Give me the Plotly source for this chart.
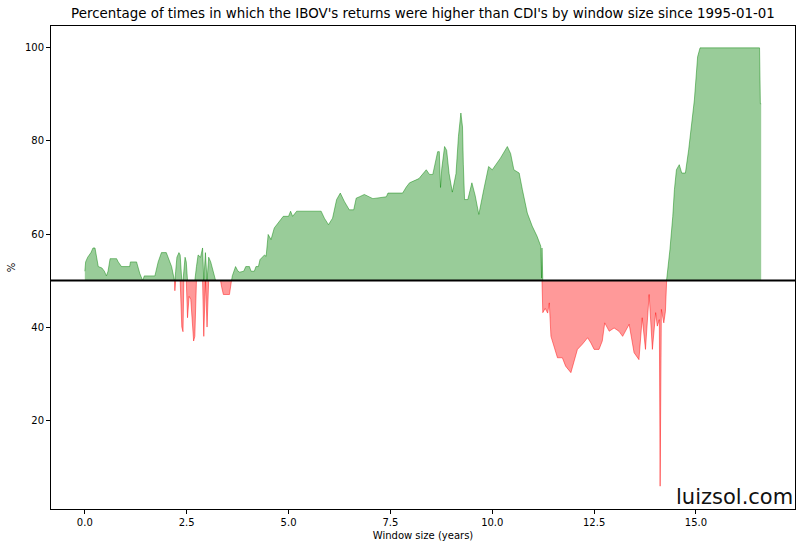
import numpy as np
import plotly.graph_objects as go

TITLE = ("Percentage of times in which the IBOV's returns were higher than CDI's "
         "by window size since 1995-01-01")

# window size in years and % of windows where IBOV beat CDI
window_years = [
    0.00, 0.02, 0.07, 0.15, 0.20, 0.25, 0.33, 0.42, 0.48, 0.53, 0.57, 0.62, 0.78, 0.82,
    0.90, 1.10, 1.12, 1.27, 1.35, 1.42, 1.46, 1.72, 1.80, 1.88, 2.00, 2.13, 2.20, 2.21,
    2.23, 2.26, 2.31, 2.34, 2.38, 2.41, 2.43, 2.46, 2.49, 2.52, 2.56, 2.60, 2.64, 2.67,
    2.70, 2.74, 2.78, 2.84, 2.89, 2.92, 2.96, 3.00, 3.04, 3.09, 3.15, 3.21, 3.33, 3.36,
    3.40, 3.55, 3.60, 3.62, 3.70, 3.76, 3.80, 3.90, 3.95, 4.04, 4.08, 4.16, 4.20, 4.26,
    4.30, 4.41, 4.45, 4.50, 4.57, 4.65, 4.77, 4.87, 5.00, 5.05, 5.10, 5.20, 5.80, 5.88,
    5.98, 6.08, 6.18, 6.27, 6.37, 6.49, 6.60, 6.66, 6.74, 6.86, 7.07, 7.40, 7.44, 7.64,
    7.80, 7.89, 7.97, 8.20, 8.38, 8.46, 8.54, 8.66, 8.70, 8.73, 8.76, 8.83, 8.88, 8.94,
    9.02, 9.11, 9.17, 9.23, 9.27, 9.29, 9.32, 9.40, 9.50, 9.58, 9.67, 9.79, 9.91, 10.00,
    10.08, 10.20, 10.37, 10.45, 10.53, 10.66, 10.74, 10.86, 10.98, 11.10, 11.19, 11.21,
    11.22, 11.24, 11.30, 11.36, 11.40, 11.44, 11.52, 11.60, 11.72, 11.80, 11.93, 12.01,
    12.09, 12.21, 12.34, 12.42, 12.50, 12.62, 12.70, 12.76, 12.87, 12.99, 13.11, 13.20,
    13.36, 13.48, 13.60, 13.68, 13.76, 13.85, 13.93, 14.01, 14.05, 14.10, 14.12, 14.15,
    14.21, 14.25, 14.28, 14.36, 14.43, 14.47, 14.52, 14.59, 14.65, 14.74, 14.82, 14.90,
    14.96, 15.04, 15.10, 16.56, 16.58, 16.60,
]
pct_higher = [
    52.0, 54.0, 55.0, 56.0, 57.0, 57.0, 53.0, 52.7, 52.0, 51.0, 52.0, 54.7, 54.7, 54.0,
    53.0, 53.0, 54.0, 54.0, 51.5, 50.0, 51.0, 51.0, 54.0, 56.0, 56.0, 53.0, 50.0, 47.8,
    52.0, 55.0, 56.0, 55.5, 40.0, 39.0, 52.0, 55.0, 54.0, 42.0, 46.6, 46.0, 40.0, 37.0,
    38.0, 53.0, 55.5, 55.0, 57.0, 38.0, 56.0, 40.0, 55.0, 54.0, 52.0, 50.0, 50.0, 48.5,
    47.0, 47.0, 50.0, 51.0, 53.0, 52.0, 51.8, 52.0, 53.0, 53.0, 52.0, 52.0, 53.0, 53.0,
    54.5, 55.5, 55.2, 59.9, 58.8, 61.3, 62.7, 63.8, 63.8, 64.9, 63.8, 64.9, 64.9, 63.4,
    62.0, 63.4, 67.4, 68.8, 67.0, 65.2, 65.2, 67.7, 68.0, 68.5, 67.6, 68.0, 68.8, 68.8,
    68.8, 70.1, 71.0, 71.9, 73.8, 72.8, 72.8, 77.7, 77.7, 70.0, 74.0, 78.8, 78.0, 73.0,
    69.0, 73.0, 81.0, 86.0, 83.0, 75.0, 67.4, 67.4, 71.0, 68.3, 64.2, 69.5, 74.5, 73.8,
    74.8, 76.3, 78.8, 77.3, 73.8, 73.1, 69.5, 64.5, 61.7, 59.5, 57.4, 50.5,
    57.0, 43.1, 44.0, 43.0, 45.2, 38.0, 35.9, 33.4, 33.4, 31.6, 30.2, 33.0,
    35.2, 36.3, 37.7, 36.6, 35.2, 35.2, 37.0, 40.9, 39.1, 39.8, 39.1, 38.0,
    40.6, 34.5, 33.0, 42.0, 35.2, 47.0, 35.2, 43.1, 40.2, 41.6, 5.8, 43.8,
    40.9, 43.4, 50.2, 56.6, 63.8, 69.5, 73.8, 74.9, 73.1, 73.1, 78.1, 83.8,
    88.8, 98.1, 100.0, 100.0, 88.0, 88.0,
]
threshold = 50
x_ticks = [0, 2.5, 5, 7.5, 10, 12.5, 15]
y_ticks = [20, 40, 60, 80, 100]

x = np.array(window_years)
y = np.array(pct_higher)
base = np.full_like(y, threshold)
above = np.maximum(y, threshold)
below = np.minimum(y, threshold)

fig = go.Figure()
for part, rgb in [(above, "0,128,0"), (below, "255,0,0")]:
    fig.add_trace(go.Scatter(x=x, y=base, mode="lines", line=dict(width=0),
                             hoverinfo="skip", showlegend=False))
    fig.add_trace(go.Scatter(
        x=x, y=part, mode="lines", fill="tonexty",
        fillcolor=f"rgba({rgb},0.4)",
        line=dict(color=f"rgba({rgb},0.45)", width=1),
        showlegend=False,
    ))

fig.add_hline(y=threshold, line=dict(color="black", width=2))

fig.add_annotation(
    text="luizsol.com", xref="paper", yref="paper", x=1, y=0,
    xanchor="right", yanchor="bottom", xshift=0, yshift=-2, showarrow=False,
    font=dict(size=21, color="#111111"),
)

axis = dict(
    showgrid=False, zeroline=False, showline=True, linecolor="black", linewidth=1,
    mirror=True, ticks="outside", ticklen=4, tickcolor="black", automargin=False,
    tickfont=dict(size=10, color="black"),
)
fig.update_layout(
    width=806, height=549,
    margin=dict(l=51, r=11, t=26, b=40),
    paper_bgcolor="white", plot_bgcolor="white",
    font=dict(family="DejaVu Sans", color="black"),
    title=dict(text=TITLE, x=0.5, xref="paper", y=1 - 13 / 549, yref="container",
               xanchor="center", yanchor="middle", font=dict(size=13.4)),
    xaxis=dict(axis, range=[-0.83, 17.43], tickvals=x_ticks, tickformat=".1f",
               title=dict(text="Window size (years)", font=dict(size=10), standoff=4)),
    yaxis=dict(axis, range=[0.9, 104.7], tickvals=y_ticks,
               title=dict(text="%", font=dict(size=10), standoff=7)),
)

# page body has a default 8px margin; drop it so the figure sits at the top-left
fig.write_html("out.html", config={"displayModeBar": False},
               post_script="document.body.style.margin='0';")
